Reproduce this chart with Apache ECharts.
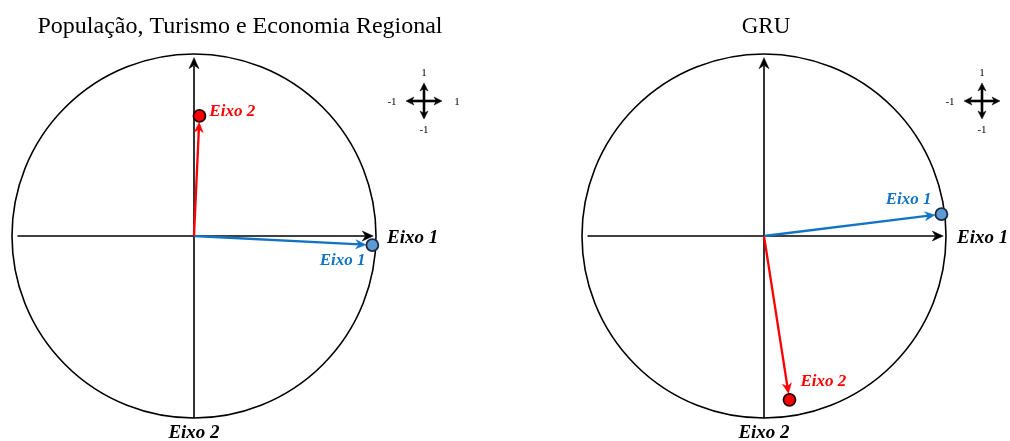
<!DOCTYPE html>
<html><head><meta charset="utf-8">
<script src="https://cdn.jsdelivr.net/npm/echarts@6/dist/echarts.min.js"></script>
<style>html,body{margin:0;padding:0;background:#fff}#c{width:1010px;height:441px}</style>
</head><body><div id="c"></div>
<script>
// ---- data ----
const panelTitles = ['População, Turismo e Economia Regional', 'GRU'];
const axisNames = ['Eixo 1', 'Eixo 2'];
const vectorNames = ['Eixo 1', 'Eixo 2'];
const eixo1X = [0.98, 0.975];
const eixo1Y = [-0.05, 0.12];
const eixo2X = [0.03, 0.14];
const eixo2Y = [0.66, -0.90];
const compassLabels = ['1', '-1', '1', '-1']; // top, left, right, bottom

// ---- styles ----
const SERIF = '"Liberation Serif","Times New Roman",serif';
const BLUE = '#1474C4', BLUE_FILL = '#5B9BD5', BLUE_EDGE = '#1B2A3F';
const RED = '#FF0000', RED_FILL = '#FF0000', RED_EDGE = '#2A0000';
const gridBoxes = [{left: 12, top: 54, width: 364, height: 364}, {left: 582, top: 54, width: 364, height: 364}];
const titlePos = [[240, 27], [766, 27]];
const titleSize = [24, 23];
const compassPos = [[424, 101], [982, 101]];
// label placement for vector points [panel][vector]
const labelPlace = [
  [{position: 'left', distance: 0, offset: [0, 16]}, {position: 'right', distance: 3, offset: [0, -4]}],
  [{position: 'left', distance: 3, offset: [0, -15]}, {position: 'right', distance: 4, offset: [0, -18]}]
];

function arrowHead(tip, dir, len, half, color) {
  const nx = -dir[1], ny = dir[0];
  const bx = tip[0] - dir[0] * len, by = tip[1] - dir[1] * len;
  const ix = tip[0] - dir[0] * len * 0.7, iy = tip[1] - dir[1] * len * 0.7;
  return {type: 'polygon', shape: {points: [tip, [bx + nx * half, by + ny * half], [ix, iy], [bx - nx * half, by - ny * half]]},
    style: {fill: color, stroke: color, lineWidth: 0.5}};
}

function frameRender(params, api) {
  const c = api.coord([0, 0]);
  const r = api.size([1, 1])[0];
  const xl = api.coord([-0.97, 0]), xr = api.coord([0.985, 0]);
  const yb = api.coord([0, -1]), yt = api.coord([0, 0.98]);
  return {type: 'group', children: [
    {type: 'circle', shape: {cx: c[0], cy: c[1], r: r}, style: {fill: 'none', stroke: '#000', lineWidth: 1.6}},
    {type: 'line', shape: {x1: xl[0], y1: xl[1], x2: xr[0] - 8, y2: xr[1]}, style: {stroke: '#000', lineWidth: 1.6}},
    arrowHead(xr, [1, 0], 11, 5, '#000'),
    {type: 'line', shape: {x1: yb[0], y1: yb[1], x2: yt[0], y2: yt[1] + 8}, style: {stroke: '#000', lineWidth: 1.6}},
    arrowHead(yt, [0, -1], 11, 5, '#000'),
    {type: 'text', x: c[0] + r + 11, y: c[1] + 2, style: {text: axisNames[0], font: 'italic bold 19px ' + SERIF, fill: '#000', align: 'left', verticalAlign: 'middle'}},
    {type: 'text', x: c[0], y: c[1] + r + 15, style: {text: axisNames[1], font: 'italic bold 19px ' + SERIF, fill: '#000', align: 'center', verticalAlign: 'middle'}}
  ]};
}

function vectorRender(params, api) {
  const p0 = api.coord([0, 0]);
  const p1 = api.coord([api.value(0), api.value(1)]);
  const color = api.value(2) === 0 ? BLUE : RED;
  const dx = p1[0] - p0[0], dy = p1[1] - p0[1];
  const L = Math.sqrt(dx * dx + dy * dy);
  const dir = [dx / L, dy / L];
  const tip = [p1[0] - dir[0] * 6.5, p1[1] - dir[1] * 6.5];
  return {type: 'group', children: [
    {type: 'line', shape: {x1: p0[0], y1: p0[1], x2: tip[0] - dir[0] * 6, y2: tip[1] - dir[1] * 6}, style: {stroke: color, lineWidth: 2.3}},
    arrowHead(tip, dir, 10, 4.5, color)
  ]};
}

const grid = [], xAxis = [], yAxis = [], series = [], graphic = [];
for (let i = 0; i < 2; i++) {
  grid.push(gridBoxes[i]);
  xAxis.push({type: 'value', gridIndex: i, min: -1, max: 1, show: false});
  yAxis.push({type: 'value', gridIndex: i, min: -1, max: 1, show: false});
  series.push({type: 'custom', xAxisIndex: i, yAxisIndex: i, data: [[0, 0]], renderItem: frameRender, silent: true, clip: false});
  const vx = [eixo1X[i], eixo2X[i]], vy = [eixo1Y[i], eixo2Y[i]];
  series.push({type: 'custom', xAxisIndex: i, yAxisIndex: i, renderItem: vectorRender, silent: true, clip: false,
    data: [[vx[0], vy[0], 0], [vx[1], vy[1], 1]]});
  series.push({type: 'scatter', xAxisIndex: i, yAxisIndex: i, symbolSize: 12, z: 5, clip: false,
    itemStyle: {opacity: 1},
    data: [0, 1].map(k => ({
      value: [vx[k], vy[k]], name: vectorNames[k],
      itemStyle: {opacity: 1, color: k === 0 ? BLUE_FILL : RED_FILL, borderColor: k === 0 ? BLUE_EDGE : RED_EDGE, borderWidth: 1.8},
      label: Object.assign({show: true, opacity: 1, formatter: '{b}', color: k === 0 ? BLUE : RED, fontFamily: SERIF, fontStyle: 'italic', fontWeight: 'bold', fontSize: 17}, labelPlace[i][k])
    }))});
  graphic.push({type: 'text', x: titlePos[i][0], y: titlePos[i][1], style: {text: panelTitles[i], font: titleSize[i] + 'px ' + SERIF, fill: '#000', align: 'center', verticalAlign: 'middle'}});
  // compass
  const cx = compassPos[i][0], cy = compassPos[i][1], a = 18;
  const cs = {stroke: '#000', lineWidth: 2.6};
  const lf = '11px ' + SERIF;
  graphic.push({type: 'group', x: cx, y: cy, children: [
    {type: 'line', shape: {x1: -a + 5, y1: 0, x2: a - 5, y2: 0}, style: cs},
    {type: 'line', shape: {x1: 0, y1: -a + 5, x2: 0, y2: a - 5}, style: cs},
    arrowHead([a, 0], [1, 0], 8, 4, '#000'),
    arrowHead([-a, 0], [-1, 0], 8, 4, '#000'),
    arrowHead([0, -a], [0, -1], 8, 4, '#000'),
    arrowHead([0, a], [0, 1], 8, 4, '#000'),
    {type: 'text', x: 0, y: -a - 10, style: {text: compassLabels[0], font: lf, fill: '#000', align: 'center', verticalAlign: 'middle'}},
    {type: 'text', x: -a - 14, y: 1, style: {text: compassLabels[1], font: lf, fill: '#000', align: 'center', verticalAlign: 'middle'}},
    {type: 'text', x: a + 15, y: 1, style: {text: compassLabels[2], font: lf, fill: '#000', align: 'center', verticalAlign: 'middle'}},
    {type: 'text', x: 0, y: a + 11, style: {text: compassLabels[3], font: lf, fill: '#000', align: 'center', verticalAlign: 'middle'}}
  ]});
}

const chart = echarts.init(document.getElementById('c'), null, {renderer: 'canvas'});
chart.setOption({animation: false, backgroundColor: '#fff', grid, xAxis, yAxis, series, graphic});
</script></body></html>
